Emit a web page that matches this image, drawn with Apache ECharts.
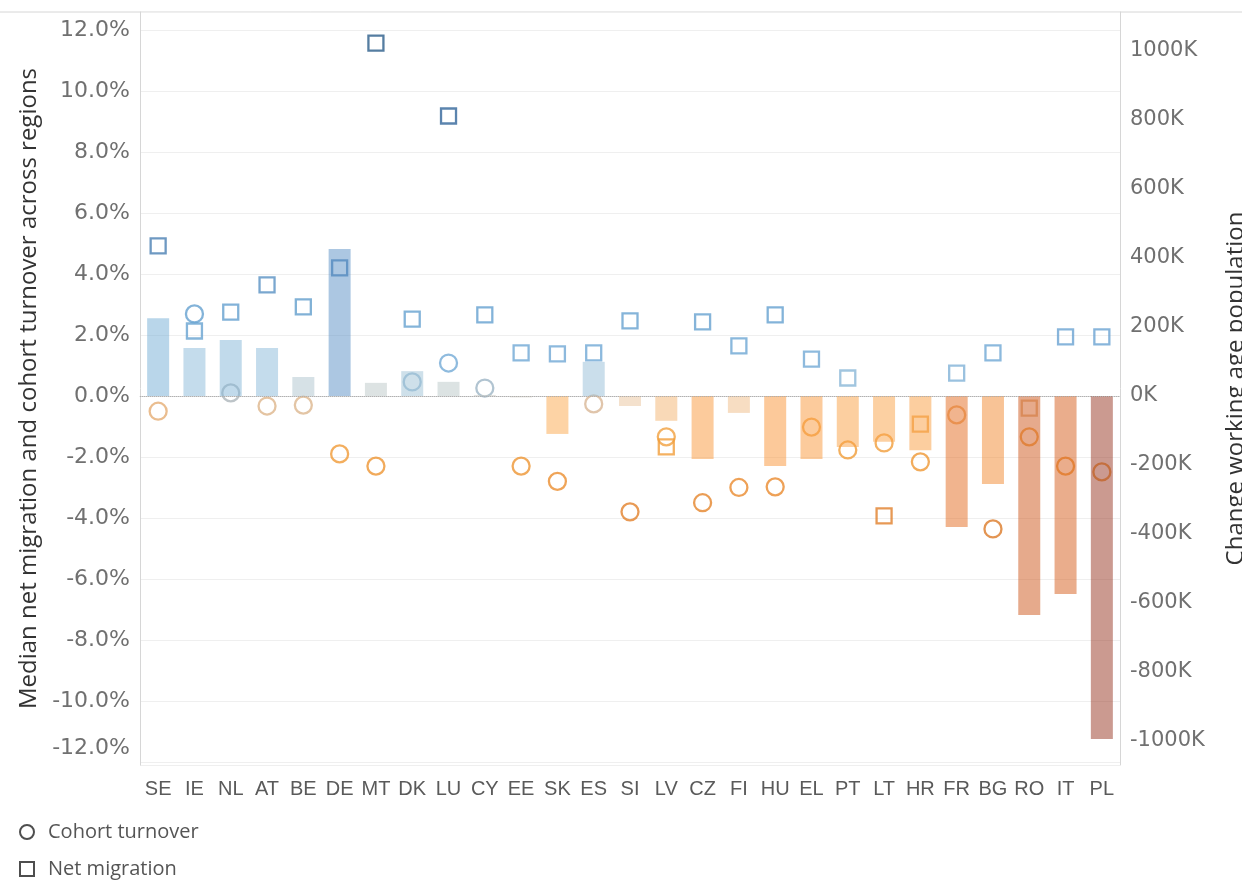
<!DOCTYPE html>
<html>
<head>
<meta charset="utf-8">
<script src="https://cdn.jsdelivr.net/npm/echarts@6/dist/echarts.min.js"></script>
<style>
html,body{margin:0;padding:0;background:#ffffff;}
#chart{width:1242px;height:881px;}
</style>
</head>
<body>
<div id="chart"></div>
<script>
// ---- Data ----
const categories = ['SE','IE','NL','AT','BE','DE','MT','DK','LU','CY','EE','SK','ES','SI','LV','CZ','FI','HU','EL','PT','LT','HR','FR','BG','RO','IT','PL'];
// Change in working age population, thousands (right axis)
const workingAgeChangeK = [225,139,162,139,55,426,38,72,41,3,-4,-110,99,-29,-72,-183,-49,-203,-183,-148,-133,-157,-380,-255,-635,-574,-994];
// Cohort turnover, percent (left axis)
const cohortTurnoverPct = [-0.5,2.69,0.1,-0.33,-0.3,-1.9,-2.3,0.46,1.08,0.26,-2.3,-2.8,-0.26,-3.8,-1.34,-3.5,-3.0,-2.98,-1.02,-1.77,-1.54,-2.16,-0.62,-4.36,-1.34,-2.3,-2.49];
// Net migration, percent (left axis)
const netMigrationPct = [4.92,2.13,2.75,3.64,2.92,4.2,11.57,2.52,9.18,2.66,1.41,1.38,1.41,2.46,-1.67,2.43,1.64,2.66,1.21,0.59,-3.93,-0.92,0.75,1.41,-0.4,1.94,1.94];

// ---- Colour scales (diverging orange - blue) ----
const markerStops = [
  [-4.4,'#dc7a28'],[-3.0,'#ea8a2d'],[-2.0,'#f09934'],[-1.0,'#f2a443'],[-0.6,'#eaa865'],
  [-0.3,'#dcb68f'],[-0.1,'#c8bcb0'],[0.1,'#acb5ba'],[0.3,'#9ab5c8'],[0.6,'#88b6d8'],
  [1.0,'#74abd6'],[2.0,'#69a3d2'],[2.7,'#64a0cf'],[3.6,'#5a92c4'],[4.2,'#4e84b8'],
  [5.0,'#4a7fb2'],[9.0,'#33669b'],[11.6,'#2b5c8a']
];
const barStops = [
  [-1000,'#973521'],[-600,'#d35919'],[-380,'#e3691d'],[-200,'#f99535'],[-110,'#fba74b'],
  [-50,'#efbb85'],[-20,'#e6c7a6'],[0,'#c8c8c2'],[40,'#bbc7c7'],[70,'#9fc1d5'],
  [140,'#89b9d9'],[225,'#73add5'],[430,'#598fc5']
];
function hexToRgb(h){return [parseInt(h.substr(1,2),16),parseInt(h.substr(3,2),16),parseInt(h.substr(5,2),16)];}
function scaleColor(stops, v){
  if (v <= stops[0][0]) return stops[0][1];
  if (v >= stops[stops.length-1][0]) return stops[stops.length-1][1];
  for (let i=0;i<stops.length-1;i++){
    const a=stops[i], b=stops[i+1];
    if (v>=a[0] && v<=b[0]){
      const t=(v-a[0])/(b[0]-a[0]);
      const ca=hexToRgb(a[1]), cb=hexToRgb(b[1]);
      const c=ca.map((x,k)=>Math.round(x+(cb[k]-x)*t));
      return 'rgb('+c.join(',')+')';
    }
  }
  return stops[0][1];
}

const axisFont = 'DejaVu Sans';
const chart = echarts.init(document.getElementById('chart'), null, {renderer:'canvas'});

const option = {
  animation: false,
  backgroundColor: '#ffffff',
  grid: {left: 140, right: 122, top: 12, bottom: 116, containLabel: false, outerBoundsMode: 'none'},
  legend: {
    orient: 'vertical', left: 19, top: 822, itemGap: 17, padding: 0,
    itemWidth: 14, itemHeight: 14, selectedMode: false,
    textStyle: {fontSize: 20, color: '#555555', fontFamily: 'Open Sans', padding: [0,0,0,9]},
    data: [
      {name: 'Cohort turnover', icon: 'circle', itemStyle: {color: 'rgba(0,0,0,0)', borderColor: '#222222', borderWidth: 2}},
      {name: 'Net migration', icon: 'rect', itemStyle: {color: 'rgba(0,0,0,0)', borderColor: '#222222', borderWidth: 2}}
    ]
  },
  xAxis: {
    type: 'category', data: categories,
    axisLine: {show: true, lineStyle: {color: '#d6d6d6', width: 1}},
    axisTick: {show: false},
    axisLabel: {interval: 0, fontSize: 20, color: '#5a5a5a', margin: 14, fontFamily: 'Liberation Sans Narrow, Liberation Sans'},
    splitLine: {show: false}
  },
  yAxis: [
    {
      type: 'value', position: 'left', min: -12.1, max: 12.59, splitNumber: 12,
      name: 'Median net migration and cohort turnover across regions',
      nameLocation: 'middle', nameGap: 98, nameRotate: 90,
      nameTextStyle: {fontSize: 24, color: '#333333', fontFamily: 'Open Sans'},
      axisLine: {show: true, lineStyle: {color: '#d6d6d6'}},
      axisTick: {show: false},
      axisLabel: {fontSize: 22, color: '#707070', margin: 10, fontFamily: axisFont,
        showMinLabel: false, showMaxLabel: false,
        formatter: v => (Math.abs(v + 12) < 1e-6 ? '{low|' + v.toFixed(1) + '%}' : v.toFixed(1) + '%'),
        rich: {low: {fontSize: 22, color: '#707070', fontFamily: axisFont, padding: [0,0,28,0]}}},
      splitLine: {show: true, lineStyle: {color: '#efefef', width: 1}}
    },
    {
      type: 'value', position: 'right', min: -1069.6, max: 1113, splitNumber: 11,
      name: 'Change working age population',
      nameLocation: 'middle', nameGap: 104, nameRotate: 90,
      nameTextStyle: {fontSize: 24, color: '#333333', fontFamily: 'Open Sans'},
      axisLine: {show: true, lineStyle: {color: '#d6d6d6'}},
      axisTick: {show: false},
      axisLabel: {fontSize: 21, color: '#707070', margin: 10, fontFamily: axisFont,
        showMinLabel: false, showMaxLabel: false,
        formatter: v => Math.round(v) + 'K'},
      splitLine: {show: false}
    }
  ],
  graphic: [
    {type: 'line', shape: {x1: 0, y1: 12, x2: 1242, y2: 12}, style: {stroke: '#d6d6d6', lineWidth: 1}, silent: true}
  ],
  series: [
    {
      name: 'Cohort turnover', type: 'scatter', yAxisIndex: 0,
      symbol: 'circle', symbolSize: 17, z: 2,
      emphasis: {disabled: true},
      data: cohortTurnoverPct.map(v => ({value: v, itemStyle: {color: 'rgba(0,0,0,0)', borderColor: scaleColor(markerStops, v), borderWidth: 2.3}})),
      markLine: {
        silent: true, symbol: 'none', label: {show: false},
        lineStyle: {type: 'dotted', color: '#b0b0b0', width: 1},
        data: [{yAxis: 0}]
      }
    },
    {
      name: 'Net migration', type: 'scatter', yAxisIndex: 0,
      symbol: 'rect', symbolSize: 15, z: 2,
      emphasis: {disabled: true},
      data: netMigrationPct.map(v => ({value: v, itemStyle: {color: 'rgba(0,0,0,0)', borderColor: scaleColor(markerStops, v), borderWidth: 2.3}}))
    },
    {
      name: 'Change working age population', type: 'bar', yAxisIndex: 1,
      barWidth: 22, z: 3,
      emphasis: {disabled: true},
      data: workingAgeChangeK.map(v => ({value: v, itemStyle: {color: scaleColor(barStops, v), opacity: 0.5}}))
    }
  ]
};
chart.setOption(option);
</script>
</body>
</html>
